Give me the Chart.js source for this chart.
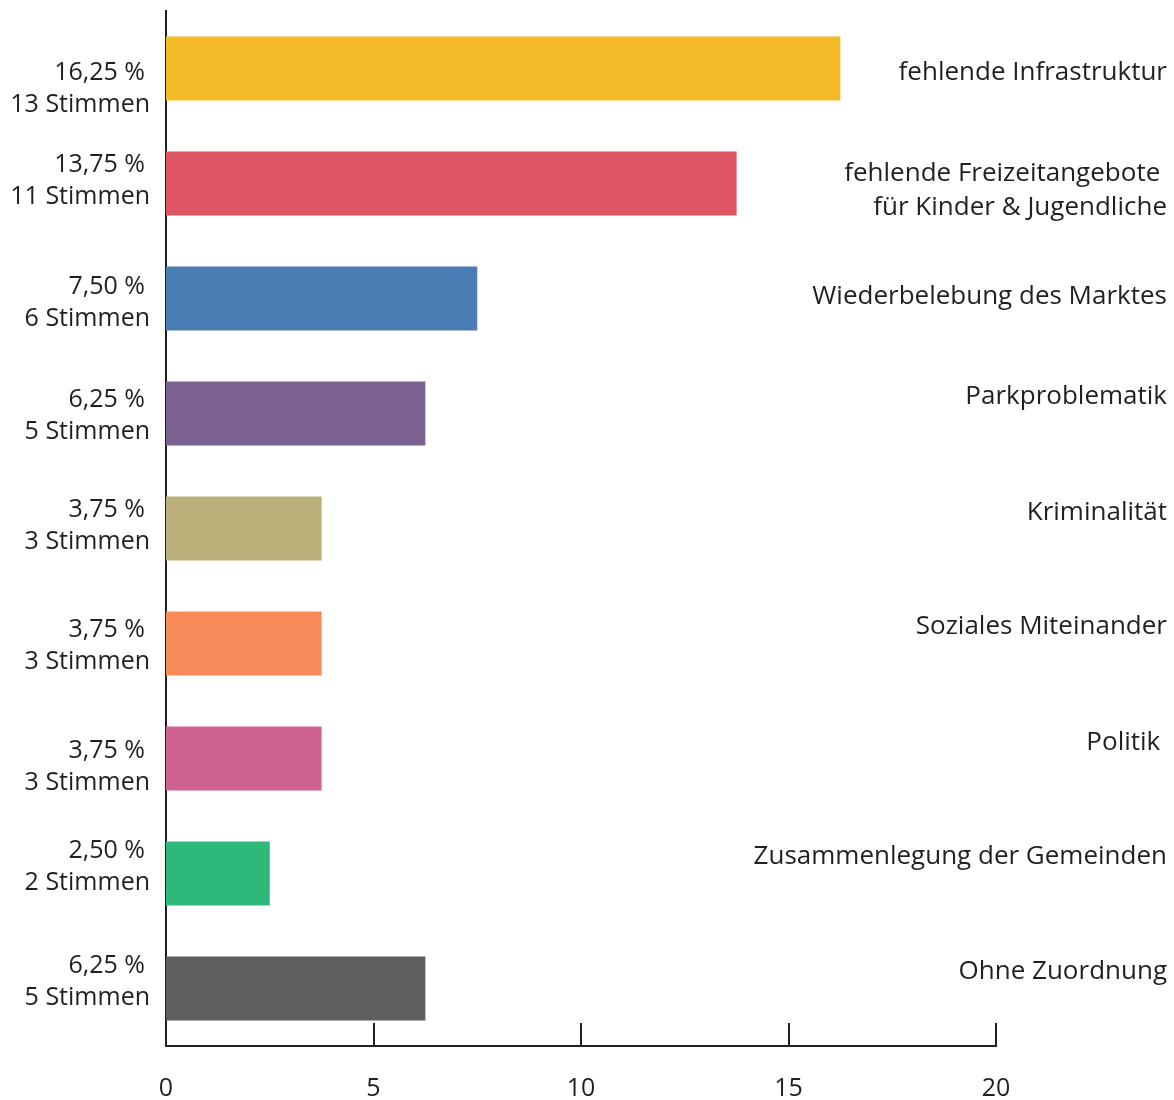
<!DOCTYPE html>
<html>
<head>
<meta charset="utf-8">
<script src="https://cdn.jsdelivr.net/npm/chart.js@4.4.1/dist/chart.umd.min.js"></script>
<style>
  html, body { margin: 0; padding: 0; background: #fff; }
  #wrap { width: 1174px; height: 1100px; }
</style>
</head>
<body>
<div id="wrap"><canvas id="chart"></canvas></div>
<script>
// categories (right side) and values
const categories = [
    ["fehlende Infrastruktur"],
    ["fehlende Freizeitangebote ", "für Kinder & Jugendliche"],
    ["Wiederbelebung des Marktes"],
    ["Parkproblematik"],
    ["Kriminalität"],
    ["Soziales Miteinander"],
    ["Politik "],
    ["Zusammenlegung der Gemeinden"],
    ["Ohne Zuordnung"]
];
const percent = [16.25, 13.75, 7.5, 6.25, 3.75, 3.75, 3.75, 2.5, 6.25];
const votes = [13, 11, 6, 5, 3, 3, 3, 2, 5];
const xTicks = [0, 5, 10, 15, 20];

const barColors = ['#F4BB29', '#DE5464', '#4A7DB4', '#7C6290', '#BCB07A',
                   '#F78B59', '#D06291', '#2EB97A', '#5D5E60'];
const ink = '#231f20';
const fontFamily = '"Open Sans", Lato, sans-serif';

// small vertical nudges of the side texts, as in the original layout
const leftShift = [20, -3, 4, 2, -3, 2, 8, -7, -7];
const rightShift = [4, 7, -2, -17, -16, -17, -16, -17, -17];

const leftLabels = percent.map(function (p, i) {
    return [p.toFixed(2).replace('.', ',') + ' %', votes[i] + ' Stimmen'];
});

const sideText = {
    id: 'sideText',
    afterDraw: function (chart) {
        const ctx = chart.ctx;
        const yScale = chart.scales.y;
        const xScale = chart.scales.x;
        const area = chart.chartArea;
        ctx.save();
        ctx.fillStyle = ink;
        ctx.textBaseline = 'middle';
        ctx.textAlign = 'right';

        // left: percent + votes
        ctx.font = '25px ' + fontFamily;
        leftLabels.forEach(function (lines, i) {
            const cy = yScale.getPixelForValue(i) + leftShift[i];
            ctx.fillText(lines[0], 145, cy - 16);
            ctx.fillText(lines[1], 150, cy + 16);
        });

        // right: category names
        ctx.font = '26px ' + fontFamily;
        categories.forEach(function (lines, i) {
            const cy = yScale.getPixelForValue(i) + rightShift[i];
            const lh = 34;
            const top = cy - (lines.length - 1) * lh / 2;
            lines.forEach(function (t, k) {
                ctx.fillText(t, 1167, top + k * lh);
            });
        });

        // tick marks pointing up into the chart
        ctx.strokeStyle = ink;
        ctx.lineWidth = 2;
        xTicks.forEach(function (v) {
            if (v === 0) return;
            const x = Math.round(xScale.getPixelForValue(v));
            ctx.beginPath();
            ctx.moveTo(x, area.bottom);
            ctx.lineTo(x, area.bottom - 23);
            ctx.stroke();
        });
        ctx.restore();
    }
};

new Chart(document.getElementById('chart'), {
    type: 'bar',
    data: {
        labels: categories.map(function (c) { return c.join(' '); }),
        datasets: [{
            data: percent,
            backgroundColor: barColors,
            categoryPercentage: 1,
            barPercentage: 0.556
        }]
    },
    options: {
        indexAxis: 'y',
        responsive: true,
        maintainAspectRatio: false,
        animation: false,
        layout: { padding: { top: 11, right: 178, bottom: 0, left: 0 } },
        plugins: {
            legend: { display: false },
            tooltip: { enabled: false }
        },
        scales: {
            x: {
                min: 0,
                max: 20,
                afterFit: function (scale) { scale.height = 54; },
                afterBuildTicks: function (scale) {
                    scale.ticks = xTicks.map(function (v) { return { value: v }; });
                },
                grid: { display: false, drawTicks: false },
                border: { display: true, color: ink, width: 2 },
                ticks: {
                    padding: 28,
                    color: ink,
                    font: { family: fontFamily, size: 25 },
                    maxRotation: 0
                }
            },
            y: {
                afterFit: function (scale) { scale.width = 166; },
                grid: { display: false, drawTicks: false },
                border: { display: true, color: ink, width: 2 },
                ticks: { display: false }
            }
        }
    },
    plugins: [sideText]
});
</script>
</body>
</html>
